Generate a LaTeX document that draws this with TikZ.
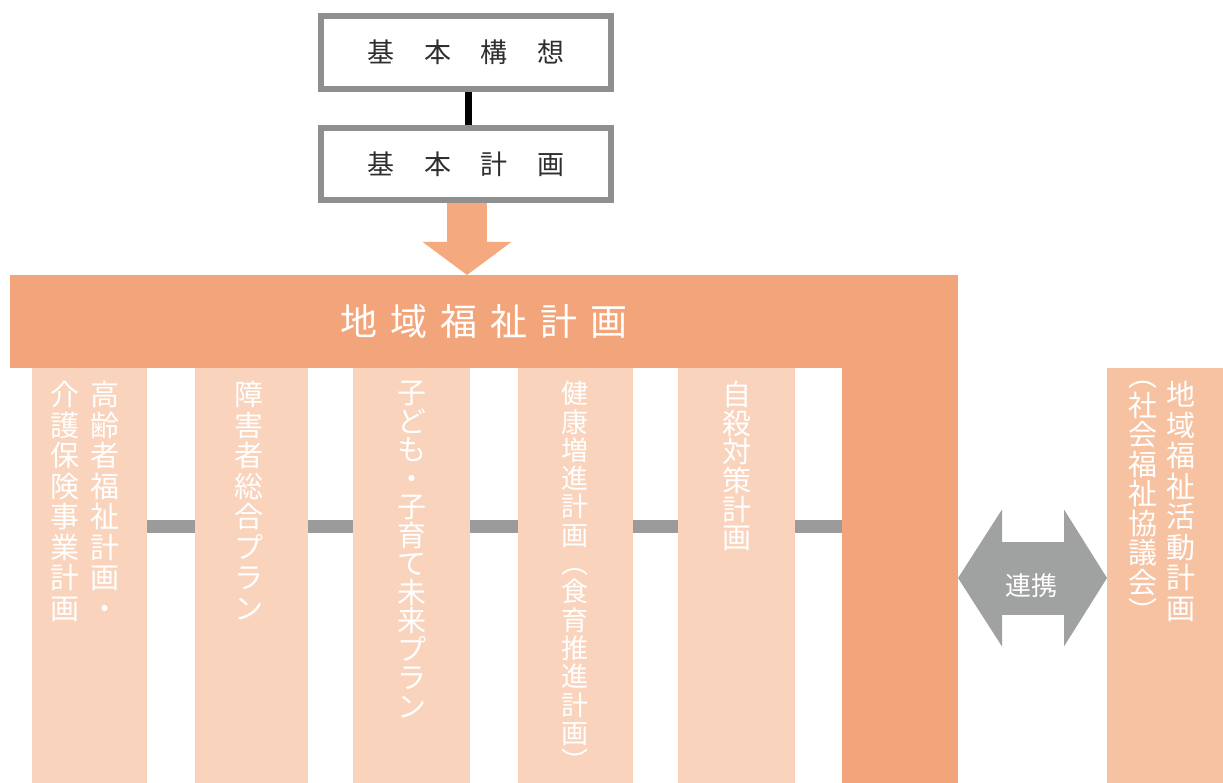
\documentclass[tikz,border=0pt]{standalone}
\usepackage{fontspec}
\newfontfamily\jp{Noto Sans CJK JP}
\usetikzlibrary{arrows.meta}
\definecolor{mainor}{HTML}{F2A57A}
\definecolor{arrowor}{HTML}{F4A97E}
\definecolor{colpeach}{HTML}{F9D3BC}
\definecolor{rightpeach}{HTML}{F7C2A1}
\definecolor{linkgray}{HTML}{9B9B9B}
\definecolor{boxgray}{HTML}{8F8F8F}
\definecolor{arrgray}{HTML}{A0A1A1}
\definecolor{txtdark}{HTML}{2E2E2E}
\makeatletter
\newcommand\vtxt[2]{\vbox{\baselineskip=#1\lineskiplimit=-100pt\lineskip=0pt\@tfor\vt@c:=#2\do{\hbox to 1em{\hss\vt@c\hss}}}}
\makeatother
\begin{document}
\begin{tikzpicture}[x=1pt,y=-1pt,font=\jp,
  topbox/.style={draw=boxgray,line width=6pt,fill=white,minimum width=290pt,minimum height=73pt,inner sep=0pt,text=txtdark,font=\jp\fontsize{27}{27}\selectfont},
  orblock/.style={fill=mainor,inner sep=0pt,outer sep=0pt},
  colbox/.style={fill=colpeach,minimum width=115pt,minimum height=415pt,anchor=north west,inner sep=0pt,outer sep=0pt},
  vlab/.style={text=white,inner sep=0pt,anchor=north,font=\jp\fontsize{29}{29}\selectfont},
  link/.style={draw=linkgray,line width=13pt},
]
\useasboundingbox (0,0) rectangle (1223,783);
\coordinate (ly) at (0,578);
% top boxes
\node[topbox] (kousou) at (466,52.5) {基\hspace{30pt}本\hspace{30pt}構\hspace{30pt}想};
\node[topbox,minimum height=72pt] (keikaku) at (466,164) {基\hspace{30pt}本\hspace{30pt}計\hspace{30pt}画};
\draw[black,line width=7pt] ([xshift=2pt]kousou.south) -- ([xshift=2pt]keikaku.north);
% main orange frame
\node[orblock,minimum width=948pt,minimum height=93pt,text=white,font=\jp\fontsize{37}{37}\selectfont] (header) at (484,321.5)
  {地\hspace{13pt}域\hspace{13pt}福\hspace{13pt}祉\hspace{13pt}計\hspace{13pt}画};
\node[orblock,minimum width=116pt,minimum height=508pt] (vbar) at (900,529) {};
% arrow into header
\draw[arrowor,line width=40pt,-{Triangle[length=33pt,width=87pt]}] ([xshift=1pt]keikaku.south) -- ([xshift=1pt]keikaku.south |- header.north);
% columns
\node[colbox] (c1) at (32,368) {};
\node[colbox,minimum width=113pt] (c2) at (195,368) {};
\node[colbox,minimum width=117pt] (c3) at (353,368) {};
\node[colbox] (c4) at (518,368) {};
\node[colbox,minimum width=117pt] (c5) at (678,368) {};
\node[colbox,fill=rightpeach,minimum width=116pt] (rbox) at (1107,368) {};
% links
\draw[link] ([yshift=49pt]c1.east) -- ([yshift=49pt]c2.west);
\draw[link] ([yshift=49pt]c2.east) -- ([yshift=49pt]c3.west);
\draw[link] ([yshift=49pt]c3.east) -- ([yshift=49pt]c4.west);
\draw[link] ([yshift=49pt]c4.east) -- ([yshift=49pt]c5.west);
\draw[link] ([yshift=49pt]c5.east) -- ([yshift=49pt]c5.east -| vbar.west);
% labels
\node[vlab] (l1a) at ([xshift=15.5pt,yshift=-13pt]c1.north) {\vtxt{30.5pt}{高齢者福祉計画・}};
\node[vlab] (l1b) at ([xshift=-24.5pt,yshift=-13pt]c1.north) {\vtxt{30.5pt}{介護保険事業計画}};
\node[vlab] (l2) at ([xshift=-3pt,yshift=-13pt]c2.north) {\vtxt{30.5pt}{障害者総合プラン}};
\node[vlab] (l3) at ([yshift=-13pt]c3.north) {\vtxt{28.5pt}{子ども・子育て未来プラン}};
\node[vlab,font=\jp\fontsize{27}{27}\selectfont] (l4) at ([xshift=-1pt,yshift=-13pt]c4.north) {\vtxt{28.3pt}{健康増進計画︵食育推進計画︶}};
\node[vlab] (l5) at ([yshift=-13pt]c5.north) {\vtxt{28.6pt}{自殺対策計画}};
\node[vlab] (r1) at ([xshift=16pt,yshift=-13pt]rbox.north) {\vtxt{30.5pt}{地域福祉活動計画}};
\node[vlab] (r2) at ([xshift=-22pt,yshift=-13pt]rbox.north) {\vtxt{29.5pt}{︵社会福祉協議会︶}};
% double arrow
\draw[arrgray,line width=73pt,{Triangle[length=44pt,width=135pt]}-{Triangle[length=43pt,width=135pt]}] (vbar.east |- ly) -- (rbox.west |- ly);
\node[text=white,inner sep=0pt,font=\jp\fontsize{26}{26}\selectfont] (renkei) at (1031,586) {連携};
\end{tikzpicture}
\end{document}
